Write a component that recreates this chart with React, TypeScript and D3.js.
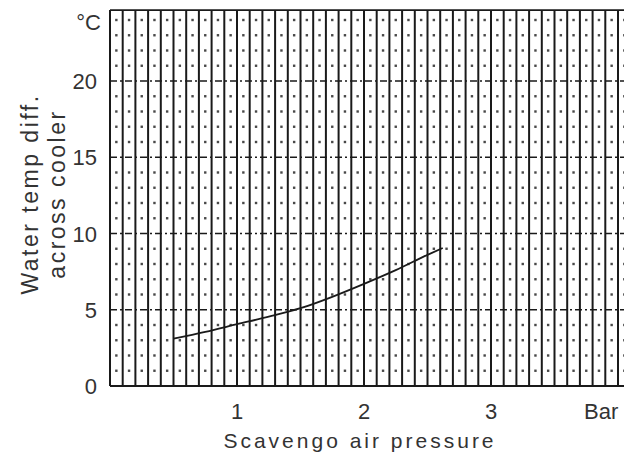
import * as d3 from "d3";

// curve
const pressure = [0.5, 0.75, 1.0, 1.25, 1.5, 1.75, 2.0, 2.25, 2.5, 2.62];
const tempDiff = [3.1, 3.55, 4.05, 4.55, 5.1, 5.85, 6.7, 7.6, 8.6, 9.05];

const xTicks = [1, 2, 3];
const yTicks = [0, 5, 10, 15, 20];

const W = 624;
const H = 462;

const App = () => {
  const x = d3.scaleLinear().domain([0, 4]).range([110, 618]);
  const y = d3.scaleLinear().domain([0, 20]).range([386, 81]);
  const yTop = y(24.65);
  const xMax = 4.1;

  // vertical grid every 0.1 bar
  const vLines = d3.range(0, 42).map((i) => i / 10);
  // rows every 1 °C
  const rows = d3.range(1, 25);

  const line = d3
    .line<number>()
    .x((d, i) => x(pressure[i]))
    .y((d) => y(d))
    .curve(d3.curveMonotoneX);

  const ink = "#1a1a1a";
  const font = "'Liberation Sans', Arial, sans-serif";

  return (
    <svg width={W} height={H} style={{ position: "absolute", left: 0, top: 0, background: "#fff" }}>
      {/* dotted rows, dashed every 5 */}
      {rows.map((r) =>
        r % 5 === 0 ? (
          <line
            key={"h" + r}
            x1={x(0)}
            x2={x(xMax)}
            y1={y(r)}
            y2={y(r)}
            stroke={ink}
            strokeWidth={1.6}
            strokeDasharray="7 3 2 3"
          />
        ) : (
          <g key={"h" + r}>
            {vLines.slice(0, -1).map((v) => (
              <rect
                key={v}
                x={x(v + 0.05) - 1.2}
                y={y(r) - 1.2}
                width={2.4}
                height={2.4}
                fill={ink}
                opacity={0.8}
              />
            ))}
          </g>
        )
      )}
      {/* vertical lines */}
      {vLines.map((v) => (
        <line
          key={"v" + v}
          x1={x(v)}
          x2={x(v)}
          y1={yTop}
          y2={y(0)}
          stroke={ink}
          strokeWidth={2}
        />
      ))}
      <line x1={x(0)} x2={x(xMax)} y1={yTop} y2={yTop} stroke={ink} strokeWidth={1.6} />
      <line x1={x(0)} x2={x(xMax)} y1={y(0)} y2={y(0)} stroke={ink} strokeWidth={2} />

      {/* curve */}
      <path d={line(tempDiff) || ""} fill="none" stroke={ink} strokeWidth={1.8} />

      {/* y ticks */}
      {yTicks.map((t) => (
        <text
          key={"yt" + t}
          x={97}
          y={y(t) + 8}
          textAnchor="end"
          fontFamily={font}
          fontSize={22}
          fill="#333"
        >
          {t}
        </text>
      ))}
      <text x={101} y={30} textAnchor="end" fontFamily={font} fontSize={22} fill="#333">
        °C
      </text>

      {/* x ticks */}
      {xTicks.map((t) => (
        <text
          key={"xt" + t}
          x={x(t)}
          y={419}
          textAnchor="middle"
          fontFamily={font}
          fontSize={22}
          fill="#333"
        >
          {t}
        </text>
      ))}
      <text x={584} y={419} fontFamily={font} fontSize={22} fill="#333">
        Bar
      </text>

      {/* axis titles */}
      <text
        x={360}
        y={448}
        textAnchor="middle"
        fontFamily={font}
        fontSize={21}
        letterSpacing={3}
        fill="#333"
      >
        Scavengo air pressure
      </text>
      <g transform="translate(38,194) rotate(-90)">
        <text textAnchor="middle" fontFamily={font} fontSize={23} letterSpacing={2.5} fill="#333">
          Water temp diff.
        </text>
        <text y={27} textAnchor="middle" fontFamily={font} fontSize={23} letterSpacing={2.5} fill="#333">
          across cooler
        </text>
      </g>
    </svg>
  );
};

export default App;
